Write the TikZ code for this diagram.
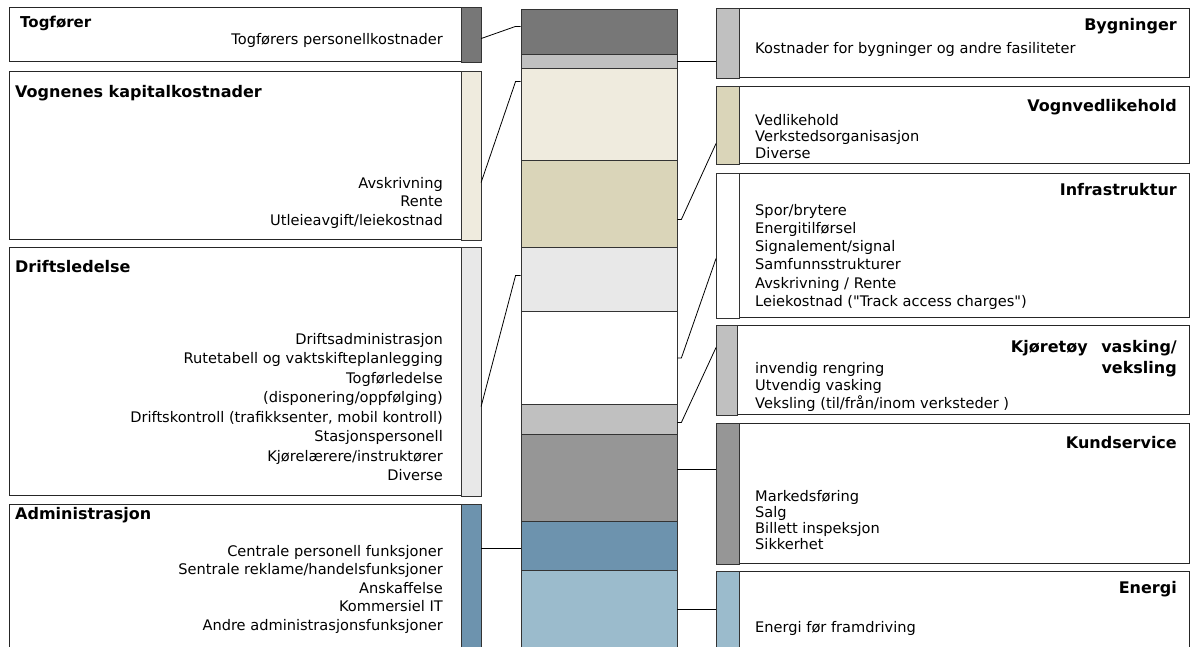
\documentclass[tikz,border=0pt]{standalone}
\usepackage{fontspec}
\setmainfont{DejaVu Sans}
\newfontfamily\plainqfont{DejaVu Sans}
\usetikzlibrary{calc}
\definecolor{segdark}{HTML}{777777}
\definecolor{seglight}{HTML}{C0C0C0}
\definecolor{segcream}{HTML}{EFEBDE}
\definecolor{segtan}{HTML}{DAD5B9}
\definecolor{segpale}{HTML}{E8E8E8}
\definecolor{segmid}{HTML}{969696}
\definecolor{segsteel}{HTML}{6D93AE}
\definecolor{segsky}{HTML}{9BBBCC}
\begin{document}
\begin{tikzpicture}[x=1pt,y=-1pt,
    box/.style={draw=black!85,line width=1.1pt,fill=white,minimum width=471pt,anchor=north west,inner sep=0pt},
    rbox/.style={box,minimum width=473pt},
    strip/.style={draw=black!80,line width=0.8pt},
    seg/.style={draw=black!80,line width=0.8pt,minimum width=156pt,anchor=north,inner sep=0pt},
    ltitle/.style={font=\bfseries\fontsize{16}{19}\selectfont,inner sep=0pt,anchor=base west},
    rtitle/.style={ltitle,anchor=base east},
    lbody/.style={align=right,inner sep=0pt,anchor=north east},
    rbody/.style={align=left,inner sep=0pt,anchor=north west},
    conn/.style={draw=black,line width=0.8pt}]
  \clip (0,0) rectangle (1196,646);
  \fill[white] (0,0) rectangle (1196,646);

  % centre bar
  \node[seg,fill=segdark,minimum height=45pt] (seg1) at (599,9) {};
  \node[seg,fill=seglight,minimum height=14pt] (seg2) at (599,54) {};
  \node[seg,fill=segcream,minimum height=92pt] (seg3) at (599,68) {};
  \node[seg,fill=segtan,minimum height=87pt] (seg4) at (599,160) {};
  \node[seg,fill=segpale,minimum height=64pt] (seg5) at (599,247) {};
  \node[seg,fill=white,minimum height=93pt] (seg6) at (599,311) {};
  \node[seg,fill=seglight,minimum height=30pt] (seg7) at (599,404) {};
  \node[seg,fill=segmid,minimum height=87pt] (seg8) at (599,434) {};
  \node[seg,fill=segsteel,minimum height=49pt] (seg9) at (599,521) {};
  \node[seg,fill=segsky,minimum height=90pt] (seg10) at (599,570) {};

  % left boxes
  \node[box,minimum height=54pt] (tog) at (9,7) {};
  \draw[strip,fill=segdark] ([xshift=-20pt]tog.north east) rectangle (tog.south east);
  \node[ltitle,font=\bfseries\fontsize{15}{18}\selectfont] (togT) at (20,27) {Togfører};
  \node[lbody,font=\fontsize{14.6}{18}\selectfont] (togB) at (443,33) {Togførers personellkostnader};

  \node[box,minimum height=168pt] (vogn) at (9,71) {};
  \draw[strip,fill=segcream] ([xshift=-20pt]vogn.north east) rectangle (vogn.south east);
  \node[ltitle] (vognT) at (15,97) {Vognenes kapitalkostnader};
  \node[lbody,font=\fontsize{14.6}{18.5}\selectfont] (vognB) at (443,177)
    {Avskrivning\\Rente\\Utleieavgift/leiekostnad};

  \node[box,minimum height=248pt] (drift) at (9,247) {};
  \draw[strip,fill=segpale] ([xshift=-20pt]drift.north east) rectangle (drift.south east);
  \node[ltitle] (driftT) at (15,272) {Driftsledelse};
  \node[lbody,font=\fontsize{14.6}{19.5}\selectfont] (driftB) at (443,333)
    {Driftsadministrasjon\\Rutetabell og vaktskifteplanlegging\\Togførledelse\\(disponering/oppfølging)\\
     Driftskontroll (trafikksenter, mobil kontroll)\\Stasjonspersonell\\Kjørelærere/instruktører\\Diverse};

  \node[box,minimum height=160pt] (adm) at (9,504) {};
  \draw[strip,fill=segsteel] ([xshift=-20pt]adm.north east) rectangle (adm.south east);
  \node[ltitle] (admT) at (15,519) {Administrasjon};
  \node[lbody,font=\fontsize{14.6}{18.5}\selectfont] (admB) at (443,545)
    {Centrale personell funksjoner\\Sentrale reklame/handelsfunksjoner\\Anskaffelse\\Kommersiel IT\\Andre administrasjonsfunksjoner};

  % right boxes
  \node[rbox,minimum height=69pt] (byg) at (716,8) {};
  \draw[strip,fill=seglight] (byg.north west) rectangle ([xshift=23pt]byg.south west);
  \node[rtitle] (bygT) at (1177,30) {Bygninger};
  \node[rbody,font=\fontsize{14.6}{18}\selectfont] (bygB) at (755,42) {Kostnader for bygninger og andre fasiliteter};

  \node[rbox,minimum height=77pt] (vedl) at (716,86) {};
  \draw[strip,fill=segtan] (vedl.north west) rectangle ([xshift=23pt]vedl.south west);
  \node[rtitle] (vedlT) at (1177,111) {Vognvedlikehold};
  \node[rbody,font=\fontsize{14.6}{16.5}\selectfont] (vedlB) at (755,114)
    {Vedlikehold\\Verkstedsorganisasjon\\Diverse};

  \node[rbox,minimum height=144pt] (infra) at (716,173) {};
  \draw[strip,fill=white] (infra.north west) rectangle ([xshift=23pt]infra.south west);
  \node[rtitle] (infraT) at (1177,195) {Infrastruktur};
  \node[rbody,font=\fontsize{14.6}{18.2}\selectfont] (infraB) at (755,204)
    {Spor/brytere\\Energitilførsel\\Signalement/signal\\Samfunnsstrukturer\\Avskrivning / Rente\\Leiekostnad ({\plainqfont"}Track access charges{\plainqfont"})};

  \node[rbox,minimum height=89pt] (vask) at (716,325) {};
  \draw[strip,fill=seglight] (vask.north west) rectangle ([xshift=21pt]vask.south west);
  \node[rtitle,anchor=north east,align=right,font=\bfseries\fontsize{16}{21}\selectfont] (vaskT) at (1177,340)
    {Kjøretøy\hspace{0.5em} vasking/\\veksling};
  \node[rbody,font=\fontsize{14.6}{17.5}\selectfont] (vaskB) at (755,362)
    {invendig rengring\\Utvendig vasking\\Veksling (til/från/inom verksteder )};

  \node[rbox,minimum height=140pt] (kund) at (716,423) {};
  \draw[strip,fill=segmid] (kund.north west) rectangle ([xshift=23pt]kund.south west);
  \node[rtitle] (kundT) at (1177,448) {Kundservice};
  \node[rbody,font=\fontsize{14.6}{16}\selectfont] (kundB) at (755,490)
    {Markedsføring\\Salg\\Billett inspeksjon\\Sikkerhet};

  \node[rbox,minimum height=90pt] (energi) at (716,571) {};
  \draw[strip,fill=segsky] (energi.north west) rectangle ([xshift=23pt]energi.south west);
  \node[rtitle] (energiT) at (1177,593) {Energi};
  \node[rbody,font=\fontsize{14.6}{18}\selectfont] (energiB) at (755,621) {Energi før framdriving};

  % connectors
  \draw[conn] ([yshift=-4pt]tog.east) -- ([xshift=-5pt,yshift=5.5pt]seg1.west) -- ([yshift=5.5pt]seg1.west);
  \draw[conn] ([yshift=-27pt]vogn.east) -- ([xshift=-5pt,yshift=33pt]seg3.west) -- ([yshift=33pt]seg3.west);
  \draw[conn] ([yshift=-35pt]drift.east) -- ([xshift=-5pt,yshift=4pt]seg5.west) -- ([yshift=4pt]seg5.west);
  \draw[conn] ([yshift=-44pt]adm.north east) -- ([yshift=-44pt]adm.north east -| seg9.west);
  \draw[conn] (seg2.east) -- (seg2.east -| byg.west);
  \draw[conn] ([yshift=-15.5pt]seg4.east) -- ([xshift=4pt,yshift=-15.5pt]seg4.east) -- ([yshift=-18.5pt]vedl.west);
  \draw[conn] (seg6.east) -- ([xshift=4pt]seg6.east) -- ([yshift=-13pt]infra.west);
  \draw[conn] ([yshift=-3pt]seg7.east) -- ([xshift=4pt,yshift=-3pt]seg7.east) -- ([yshift=22.5pt]vask.west);
  \draw[conn] ([yshift=8.5pt]seg8.east) -- ([yshift=8.5pt]seg8.east -| kund.west);
  \draw[conn] ([yshift=6pt]seg10.east) -- ([yshift=6pt]seg10.east -| energi.west);
\end{tikzpicture}
\end{document}
